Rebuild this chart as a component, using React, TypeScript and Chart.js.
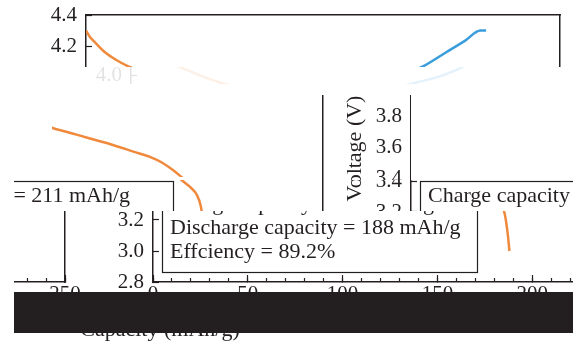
import React, { useEffect, useRef } from 'react';
import { Chart, registerables } from 'chart.js';

Chart.register(...registerables);

// ---------- data ----------
const chargeCapacity = [0, 1, 3, 6, 10, 20, 35, 50, 70, 90, 110, 130, 150, 165, 178, 190, 200, 208, 211];
const chargeVoltage = [3.45, 3.55, 3.62, 3.66, 3.68, 3.70, 3.72, 3.74, 3.77, 3.80, 3.84, 3.89, 3.95, 4.00, 4.07, 4.16, 4.235, 4.30, 4.30];

const dischargeCapacity = [0, 2, 5, 10, 16, 22, 30, 40, 50, 60, 70, 80, 90, 100, 111, 120, 130, 140, 150, 159, 165, 171, 176, 180, 183.5, 185.5, 187, 188];
const dischargeVoltage = [4.30, 4.26, 4.22, 4.16, 4.11, 4.07, 4.03, 3.98, 3.94, 3.90, 3.86, 3.82, 3.78, 3.75, 3.71, 3.68, 3.645, 3.61, 3.57, 3.535, 3.50, 3.45, 3.40, 3.36, 3.31, 3.24, 3.12, 3.00];

const capacityRange = [0, 250];
const capacityMajorStep = 50;
const capacityMinorStep = 10;
const voltageRange = [2.8, 4.4];
const voltageStep = 0.2;

const noteLines = ['Charge capacity = 211 mAh/g', 'Discharge capacity = 188 mAh/g', 'Effciency = 89.2%'];
const xTitle = 'Capacity (mAh/g)';
const yTitle = 'Voltage (V)';

// ---------- style ----------
const W = 573;
const H = 343;
const CW = 590;
const WRAP = 562;
const DARK = '#231f20';
const ORANGE = '#ef8a3d';
const BLUE = '#3a9ddb';
const SERIF = "'Liberation Serif', 'Times New Roman', serif";
const PLOT_LEFT = 86;
const PLOT_TOP = 15;
const PLOT_BOTTOM = 263;

// glitch bands: window in the picture and shift of the chart copy
const bands = [
  { x0: 0, x1: 573, y0: 0, y1: 67, dx: 0, dy: 0, op: 1 },
  { x0: 90, x1: 573, y0: 67, y1: 84, dx: 45, dy: -2, op: 0.13 },
  { x0: 52, x1: 315, y0: 122, y1: 177, dx: 325, dy: 8, op: 1 },
  { x0: 315, x1: 411, y0: 95, y1: 180, dx: 325, dy: 8, op: 1 },
  { x0: 14, x1: 573, y0: 180, y1: 211, dx: 325, dy: 11, op: 1 },
  { x0: 14, x1: 573, y0: 211, y1: 292, dx: 67, dy: 19, op: 1 },
  { x0: 14, x1: 573, y0: 333, y1: 343, dx: -163, dy: 20, op: 1 },
];

const notePlugin = {
  id: 'notebox',
  afterDatasetsDraw(chart: any) {
    const { ctx, chartArea } = chart;
    const left = chartArea.left + 9;
    const top = chart.scales.y.getPixelForValue(3.4);
    const w = 315;
    const h = 83;
    ctx.save();
    ctx.fillStyle = '#ffffff';
    ctx.fillRect(left, top, w, h);
    ctx.strokeStyle = DARK;
    ctx.lineWidth = 1.2;
    ctx.strokeRect(left + 0.5, top + 0.5, w, h);
    ctx.fillStyle = DARK;
    ctx.font = `22px ${SERIF}`;
    ctx.textBaseline = 'middle';
    ctx.textAlign = 'left';
    noteLines.forEach((t, i) => ctx.fillText(t, left + 8, top + 15 + i * 24));
    ctx.restore();
  },
};

function makeConfig(): any {
  const tickFont = { family: SERIF, size: 21 };
  const titleFont = { family: SERIF, size: 22 };
  return {
    type: 'line',
    data: {
      datasets: [
        {
          label: 'Charge',
          data: chargeCapacity.map((c, i) => ({ x: c, y: chargeVoltage[i] })),
          borderColor: BLUE,
          borderWidth: 2.5,
          pointRadius: 0,
          fill: false,
          cubicInterpolationMode: 'monotone',
        },
        {
          label: 'Discharge',
          data: dischargeCapacity.map((c, i) => ({ x: c, y: dischargeVoltage[i] })),
          borderColor: ORANGE,
          borderWidth: 2.5,
          pointRadius: 0,
          fill: false,
          cubicInterpolationMode: 'monotone',
        },
      ],
    },
    options: {
      animation: false,
      responsive: false,
      devicePixelRatio: 1,
      layout: { padding: { left: 0, top: PLOT_TOP, right: CW - 560, bottom: 0 } },
      plugins: { legend: { display: false }, tooltip: { enabled: false } },
      scales: {
        x: {
          type: 'linear',
          position: 'bottom',
          weight: 1,
          min: capacityRange[0],
          max: capacityRange[1],
          ticks: { stepSize: capacityMajorStep, autoSkip: false, maxRotation: 0, font: tickFont, color: DARK, padding: 7 },
          grid: { drawOnChartArea: false, drawTicks: true, tickLength: -7, tickColor: DARK, tickWidth: 1.2 },
          border: { display: true, color: DARK, width: 1.5 },
          title: { display: true, text: xTitle, font: titleFont, color: DARK, padding: { top: 0, bottom: 20 } },
          afterFit: (s: any) => {
            s.height = H - PLOT_BOTTOM;
            s.paddingLeft = 0;
            s.paddingRight = 0;
          },
        },
        xMinor: {
          type: 'linear',
          position: 'bottom',
          weight: 0,
          min: capacityRange[0],
          max: capacityRange[1],
          ticks: { display: false, stepSize: capacityMinorStep, autoSkip: false },
          grid: { drawOnChartArea: false, drawTicks: true, tickLength: -4, tickColor: DARK, tickWidth: 1.2 },
          border: { display: false },
          afterFit: (s: any) => {
            s.height = 0;
            s.paddingLeft = 0;
            s.paddingRight = 0;
          },
        },
        xTop: {
          type: 'linear',
          position: 'top',
          min: capacityRange[0],
          max: capacityRange[1],
          ticks: { display: false },
          grid: { display: true, drawOnChartArea: false, drawTicks: false },
          border: { display: true, color: DARK, width: 1.5 },
          afterFit: (s: any) => {
            s.height = 0;
            s.paddingLeft = 0;
            s.paddingRight = 0;
          },
        },
        y: {
          type: 'linear',
          position: 'left',
          min: voltageRange[0],
          max: voltageRange[1],
          ticks: {
            stepSize: voltageStep,
            autoSkip: false,
            font: tickFont,
            color: DARK,
            padding: 15,
            callback: (v: any) => Number(v).toFixed(1),
          },
          grid: { drawOnChartArea: false, drawTicks: true, tickLength: -6, tickColor: DARK, tickWidth: 1.2 },
          border: { display: true, color: DARK, width: 1.5 },
          title: { display: true, text: yTitle, font: titleFont, color: DARK, padding: { top: 17, bottom: 0 } },
          afterFit: (s: any) => {
            s.width = PLOT_LEFT;
            s.paddingTop = 0;
            s.paddingBottom = 0;
          },
        },
        yRight: {
          type: 'linear',
          position: 'right',
          min: voltageRange[0],
          max: voltageRange[1],
          ticks: { display: false },
          grid: { display: true, drawOnChartArea: false, drawTicks: false },
          border: { display: true, color: DARK, width: 1.5 },
          afterFit: (s: any) => {
            s.width = 0;
            s.paddingTop = 0;
            s.paddingBottom = 0;
          },
        },
      },
    },
    plugins: [notePlugin],
  };
}

function ChartCopy({ left, top }: { left: number; top: number }) {
  const ref = useRef<HTMLCanvasElement>(null);
  useEffect(() => {
    const chart = new Chart(ref.current as HTMLCanvasElement, makeConfig());
    return () => chart.destroy();
  }, []);
  return (
    <canvas
      ref={ref}
      width={CW}
      height={H}
      style={{ position: 'absolute', left, top, width: CW, height: H, display: 'block' }}
    />
  );
}

function copiesFor(b: { x0: number; x1: number; dx: number }) {
  return [-1, 0, 1]
    .map((k) => b.dx + k * WRAP)
    .filter((l) => l < b.x1 && l + CW > b.x0);
}

export default function App() {
  return (
    <div
      style={{
        position: 'fixed',
        left: 0,
        top: 0,
        width: W,
        height: H,
        background: '#ffffff',
        overflow: 'hidden',
      }}
    >
      {bands.map((b, i) => (
        <div
          key={i}
          style={{
            position: 'absolute',
            left: b.x0,
            top: b.y0,
            width: b.x1 - b.x0,
            height: b.y1 - b.y0,
            overflow: 'hidden',
            background: '#ffffff',
            opacity: b.op,
          }}
        >
          {copiesFor(b).map((l) => (
            <ChartCopy key={l} left={l - b.x0} top={b.dy - b.y0} />
          ))}
        </div>
      ))}
      <div style={{ position: 'absolute', left: 14, top: 292, width: W - 14, height: 41, background: DARK }} />
    </div>
  );
}
